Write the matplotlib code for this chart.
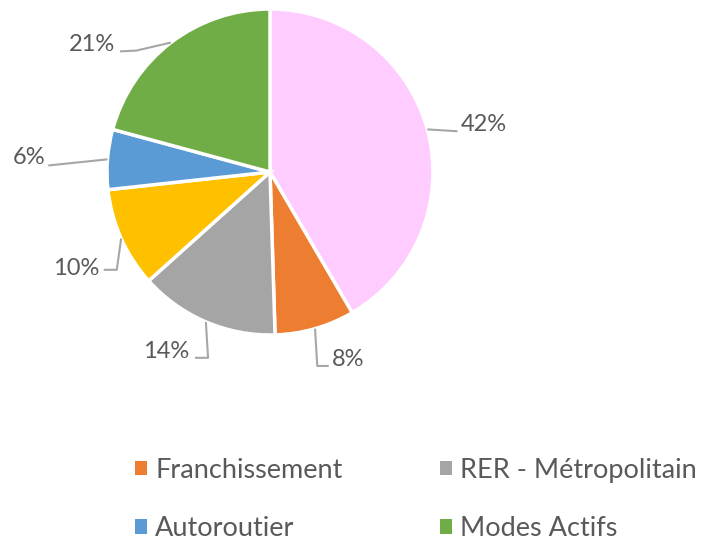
import numpy as np
import matplotlib
matplotlib.use("Agg")
import matplotlib.pyplot as plt

# données du graphique
categories = ["", "Franchissement", "RER - Métropolitain", "", "Autoroutier", "Modes Actifs"]
valeurs = [42, 8, 14, 10, 6, 21]
etiquettes = ["42%", "8%", "14%", "10%", "6%", "21%"]
couleurs = ["#FFCCFF", "#ED7D31", "#A5A5A5", "#FFC000", "#5B9BD5", "#70AD47"]

# position des étiquettes et coudes des lignes de rappel (rayon du camembert = 1)
pos_etiquettes = [(1.31, 0.29), (0.48, -1.15), (-0.64, -1.10), (-1.19, -0.59), (-1.48, 0.09), (-1.09, 0.785)]
coudes = [
    [(1.15, 0.25)],
    [(0.29, -1.19), (0.36, -1.19)],
    [(-0.38, -1.14), (-0.46, -1.14)],
    [(-0.94, -0.60), (-1.02, -0.60)],
    [(-1.36, 0.04)],
    [(-0.82, 0.745), (-0.92, 0.74)],
]

gris_texte = "#595959"
police = ["Lato", "DejaVu Sans"]
R = 163.0  # rayon en pixels
cx, cy = 270, 172

fig = plt.figure(figsize=(7.03, 5.42), dpi=100)
ax = fig.add_axes([0, 0, 1, 1])

parts, _ = ax.pie(valeurs, colors=couleurs, startangle=90, counterclock=False,
                  radius=1, wedgeprops=dict(edgecolor="white", linewidth=2.5))
ax.set_xlim(-cx / R, (703 - cx) / R)
ax.set_ylim(-(542 - cy) / R, cy / R)
ax.axis("off")

for part, texte, xy, chemin in zip(parts, etiquettes, pos_etiquettes, coudes):
    milieu = np.deg2rad((part.theta1 + part.theta2) / 2)
    depart = (np.cos(milieu), np.sin(milieu))
    pts = [depart] + chemin
    ax.plot([p[0] for p in pts], [p[1] for p in pts], color="#A6A6A6", lw=1.5,
            solid_capstyle="butt", zorder=1)
    ax.text(xy[0], xy[1], texte, ha="center", va="center", fontsize=17,
            color=gris_texte, family=police)

ordre = [1, 4, 2, 5]
leg = ax.legend([parts[i] for i in ordre], [categories[i] for i in ordre],
                ncol=2, loc="upper left", bbox_to_anchor=(124 / 703, 1 - 447 / 542),
                frameon=False, handlelength=0.45, handleheight=0.45, handletextpad=0.3,
                columnspacing=3.6, labelspacing=1.22, borderaxespad=0, borderpad=0.4,
                prop=dict(family=police, size=19.5))
for t in leg.get_texts():
    t.set_color(gris_texte)
for h in leg.legend_handles:
    h.set_edgecolor("none")

fig.savefig("out.png", dpi=100)
